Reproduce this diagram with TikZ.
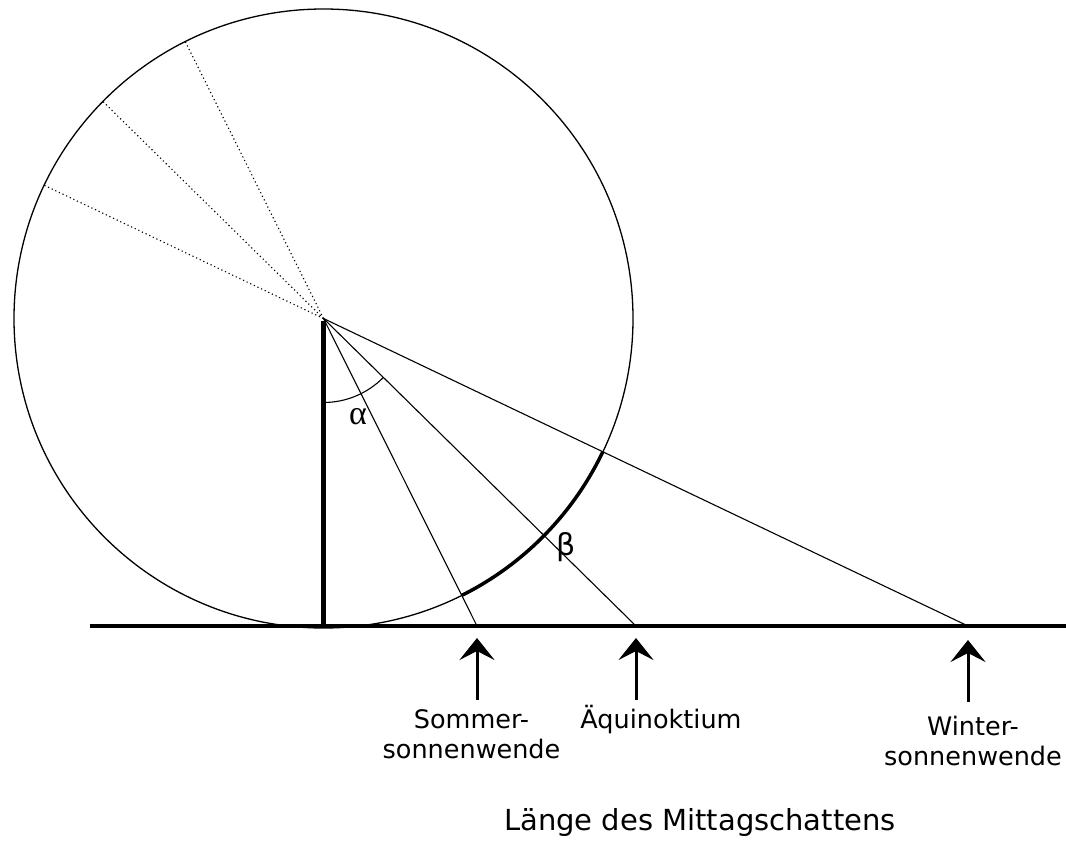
\documentclass[tikz,border=0pt]{standalone}
\usepackage{fontspec}
\setmainfont{DejaVu Sans}
\newfontfamily\greekserif{Liberation Serif}
\usetikzlibrary{arrows.meta,calc}
\begin{document}
\begin{tikzpicture}[x=1pt,y=-1pt,
  circline/.style={line width=1.3pt},
  ray/.style={line width=1.1pt},
  sunray/.style={line width=1.1pt,dash pattern=on 1.2pt off 2.8pt},
  groundline/.style={line width=3.5pt},
  gnomonline/.style={line width=5.5pt},
  seasonarc/.style={line width=3.5pt},
  anglearc/.style={line width=1.1pt},
  markarrow/.style={line width=3pt,-{Stealth[length=22pt,width=35pt,inset=9pt]}},
  lbl/.style={inner sep=0pt,font=\fontsize{25.5}{30}\selectfont,align=center},
  greek/.style={inner sep=0pt}]
\useasboundingbox (0,0) rectangle (1066,841);
% points
\coordinate (tip) at (323.5,318.5);
\coordinate (foot) at (323.5,626);
\coordinate (S) at (477,626);
\coordinate (A) at (636,626);
\coordinate (W) at (968,626);
\coordinate (gL) at (90,626);
\coordinate (gR) at (1066,626);
% circle
\draw[circline] (tip) circle[radius=309.5];
% dotted continuations
\coordinate (dS) at ($(tip)!309.5pt!180:(S)$);
\coordinate (dA) at ($(tip)!309.5pt!180:(A)$);
\coordinate (dW) at ($(tip)!309.5pt!180:(W)$);
\draw[sunray] (tip) -- (dS);
\draw[sunray] (tip) -- (dA);
\draw[sunray] (tip) -- (dW);
% shadow rays
\draw[ray] (tip) -- (S);
\draw[ray] (tip) -- (A);
\draw[ray] (tip) -- (W);
% thick arc between summer and winter rays
\coordinate (cS) at ($(tip)!309.5pt!(S)$);
\draw[seasonarc] (cS) arc[start angle=63.47, end angle=25.51, radius=309.5];
% angle alpha arc
\coordinate (aStart) at ($(tip)+(0,84)$);
\draw[anglearc] (aStart) arc[start angle=90, end angle=44.54, radius=84];
% ground and gnomon
\draw[groundline] (gL) -- (gR);
\draw[gnomonline] ($(tip)+(0,2)$) -- (foot);
% greek labels
\node[greek,font=\greekserif\fontsize{34}{36}\selectfont] (alpha) at (358,417) {α};
\node[greek,font=\fontsize{30}{34}\selectfont] (beta) at (566,547) {β};
% arrows
\coordinate (bS) at (477,700);
\coordinate (tS) at (477,638);
\coordinate (bA) at (636,700);
\coordinate (tA) at (636,638);
\coordinate (bW) at (968,702);
\coordinate (tW) at (968,640);
\draw[markarrow] (bS) -- (tS);
\draw[markarrow] (bA) -- (tA);
\draw[markarrow] (bW) -- (tW);
% labels
\node[lbl,anchor=north] (lS) at (471.5,709.5) {Sommer-\\sonnenwende};
\node[lbl,anchor=base] (lA) at (661,728) {Äquinoktium};
\node[lbl,anchor=north] (lW) at (973,716) {Winter-\\sonnenwende};
\node[inner sep=0pt,anchor=base,font=\fontsize{29}{34}\selectfont] (cap) at (700,830) {Länge des Mittagschattens};
\end{tikzpicture}
\end{document}
